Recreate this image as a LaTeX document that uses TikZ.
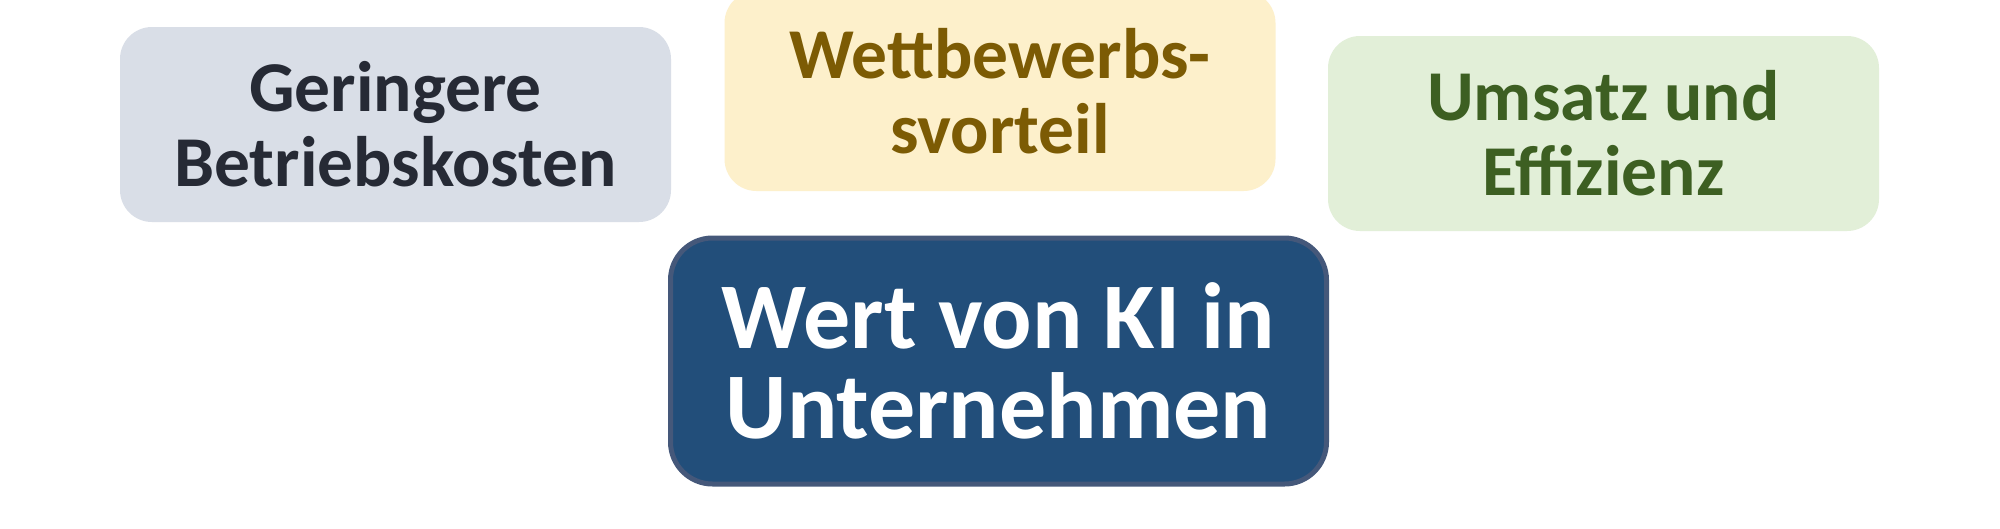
\documentclass[tikz,border=0pt]{standalone}
\usepackage{fontspec}
\setmainfont{Carlito}
\definecolor{grayfill}{HTML}{D9DEE7}
\definecolor{graytext}{HTML}{262A35}
\definecolor{yelfill}{HTML}{FDF0CB}
\definecolor{yeltext}{HTML}{7C5B04}
\definecolor{grnfill}{HTML}{E2EFD8}
\definecolor{grntext}{HTML}{3D5F22}
\definecolor{corefill}{HTML}{224E7A}
\definecolor{coreline}{HTML}{45587A}
\tikzset{
  benefit/.style={rectangle, rounded corners=32pt, minimum width=551pt, minimum height=195pt,
    align=center, inner sep=0pt, font=\fontsize{71.5}{75}\selectfont\bfseries},
  corebox/.style={rectangle, rounded corners=42pt, minimum width=656pt, minimum height=246pt,
    fill=corefill, draw=coreline, line width=5pt, align=center, inner sep=0pt, text=white,
    font=\fontsize{94}{90}\selectfont\bfseries}
}
\begin{document}
\begin{tikzpicture}[x=1pt,y=-1pt]
\useasboundingbox (0,0) rectangle (2000,528);
\fill[white] (0,0) rectangle (2000,528);
\node[benefit, fill=grayfill, text=graytext] (kosten) at (395.5,124.5) {Geringere\\Betriebskosten};
\node[benefit, fill=yelfill, text=yeltext, minimum height=200pt] (wett) at (1000,91) {Wettbewerbs-\\svorteil};
\node[benefit, fill=grnfill, text=grntext] (umsatz) at (1603.5,133.5) {Umsatz und\\Effizienz};
\node[corebox] (wert) at (998.5,361) {Wert von KI in\\Unternehmen};
\end{tikzpicture}
\end{document}
